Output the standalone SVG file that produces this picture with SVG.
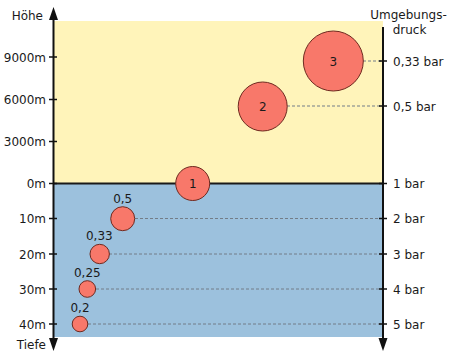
<svg xmlns="http://www.w3.org/2000/svg" width="450" height="360" viewBox="0 0 450 360">
<style>
text{font-family:"DejaVu Sans","Verdana",sans-serif;font-size:12px;fill:#1a1a1a}
.l{text-anchor:end}
.r{text-anchor:start}
.m{text-anchor:middle}
.ax{stroke:#111;stroke-width:2;fill:none}
.tk{stroke:#111;stroke-width:1.5}
.dash{stroke:#737d88;stroke-width:1;stroke-dasharray:3,2;fill:none}
.b{fill:#f8786a;stroke:#6e2a20;stroke-width:1}
</style>
<rect x="53" y="21" width="330" height="162" fill="#fff4ba"/>
<rect x="53" y="183" width="330" height="154" fill="#9cc1dd"/>
<g id="connectors">
<line class="dash" x1="363" y1="61" x2="383" y2="61"/>
<line class="dash" x1="287" y1="106" x2="383" y2="106"/>
<line class="dash" x1="135" y1="218.5" x2="383" y2="218.5"/>
<line class="dash" x1="109" y1="254" x2="383" y2="254"/>
<line class="dash" x1="96" y1="289" x2="383" y2="289"/>
<line class="dash" x1="88" y1="324" x2="383" y2="324"/>
</g>
<line x1="53" y1="183.5" x2="383" y2="183.5" stroke="#1a1a1a" stroke-width="2"/>
<g id="left-axis">
<line class="ax" x1="53.5" y1="18" x2="53.5" y2="340"/>
<polygon points="53.5,7 49,20 58,20" fill="#111"/>
<polygon points="53.5,351 49,338 58,338" fill="#111"/>
<line class="tk" x1="49" y1="57" x2="57" y2="57"/>
<line class="tk" x1="49" y1="99.5" x2="57" y2="99.5"/>
<line class="tk" x1="49" y1="141.5" x2="57" y2="141.5"/>
<line class="tk" x1="49" y1="183.5" x2="57" y2="183.5"/>
<line class="tk" x1="49" y1="218.5" x2="57" y2="218.5"/>
<line class="tk" x1="49" y1="254" x2="57" y2="254"/>
<line class="tk" x1="49" y1="289" x2="57" y2="289"/>
<line class="tk" x1="49" y1="324" x2="57" y2="324"/>
<text class="l" x="43" y="19.5">Höhe</text>
<text class="l" x="46" y="61.5">9000m</text>
<text class="l" x="46" y="104">6000m</text>
<text class="l" x="46" y="146">3000m</text>
<text class="l" x="46" y="188">0m</text>
<text class="l" x="46" y="223">10m</text>
<text class="l" x="46" y="258.5">20m</text>
<text class="l" x="46" y="293.5">30m</text>
<text class="l" x="46" y="328.5">40m</text>
<text class="l" x="46" y="349">Tiefe</text>
</g>
<g id="right-axis">
<line class="ax" x1="383" y1="27" x2="383" y2="340"/>
<polygon points="383,351 378.5,338 387.5,338" fill="#111"/>
<line class="tk" x1="379" y1="61" x2="387" y2="61"/>
<line class="tk" x1="379" y1="106" x2="387" y2="106"/>
<line class="tk" x1="379" y1="183.5" x2="387" y2="183.5"/>
<line class="tk" x1="379" y1="218.5" x2="387" y2="218.5"/>
<line class="tk" x1="379" y1="254" x2="387" y2="254"/>
<line class="tk" x1="379" y1="289" x2="387" y2="289"/>
<line class="tk" x1="379" y1="324" x2="387" y2="324"/>
<text class="m" x="408.5" y="19">Umgebungs-</text>
<text class="m" x="409.5" y="33.5">druck</text>
<text class="r" x="393" y="65.5">0,33 bar</text>
<text class="r" x="393" y="110.5">0,5 bar</text>
<text class="r" x="393" y="188">1 bar</text>
<text class="r" x="393" y="223">2 bar</text>
<text class="r" x="393" y="258.5">3 bar</text>
<text class="r" x="393" y="293.5">4 bar</text>
<text class="r" x="393" y="328.5">5 bar</text>
</g>
<g id="bubble-3">
<circle class="b" cx="333.3" cy="61" r="30"/>
<text class="m" x="333.3" y="65.5">3</text>
</g>
<g id="bubble-2">
<circle class="b" cx="262.7" cy="106.5" r="24.5"/>
<text class="m" x="262.7" y="111">2</text>
</g>
<g id="bubble-1">
<circle class="b" cx="192.7" cy="183.5" r="17"/>
<text class="m" x="192.7" y="188">1</text>
</g>
<g id="bubble-10m">
<circle class="b" cx="122.7" cy="218.7" r="12"/>
<text class="m" x="122.7" y="203">0,5</text>
</g>
<g id="bubble-20m">
<circle class="b" cx="99.7" cy="254" r="9.7"/>
<text class="m" x="99.3" y="240">0,33</text>
</g>
<g id="bubble-30m">
<circle class="b" cx="87.3" cy="289" r="8.3"/>
<text class="m" x="87.3" y="276.5">0,25</text>
</g>
<g id="bubble-40m">
<circle class="b" cx="80" cy="324" r="7.8"/>
<text class="m" x="80" y="311.5">0,2</text>
</g>
</svg>
